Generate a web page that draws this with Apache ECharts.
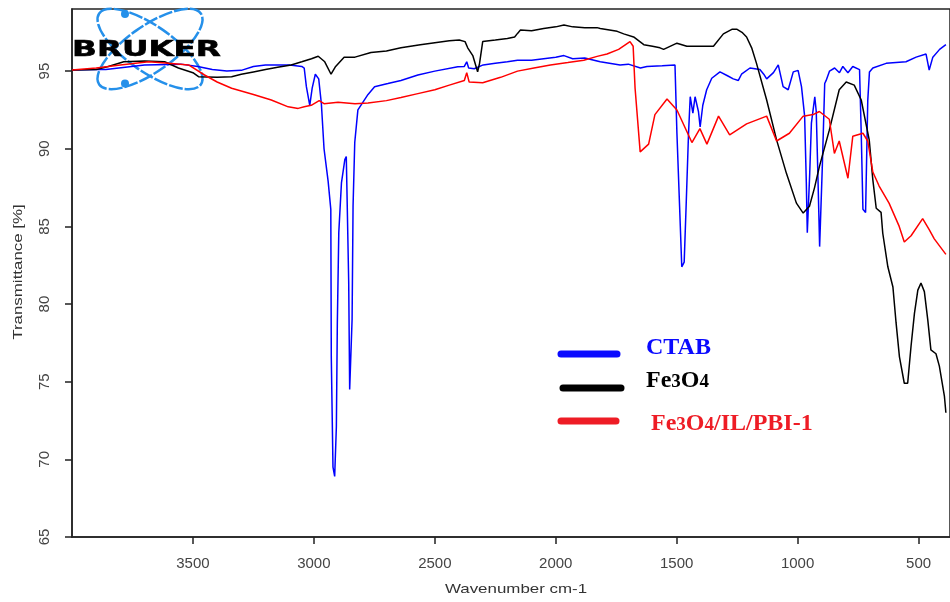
<!DOCTYPE html>
<html>
<head>
<meta charset="utf-8">
<script src="https://cdn.jsdelivr.net/npm/echarts@6/dist/echarts.min.js"></script>
<style>
  html, body { margin: 0; padding: 0; background: #fff; }
  #chart { width: 950px; height: 602px; }
</style>
</head>
<body>
<div id="chart"></div>
<script>
// FT-IR spectra: wavenumber (cm-1) and transmittance (%) per sample
const wavenumberTicks = [500, 1000, 1500, 2000, 2500, 3000, 3500];
const transmittanceTicks = [65, 70, 75, 80, 85, 90, 95];
const seriesNames = ['CTAB', 'Fe3O4', 'Fe3O4/IL/PBI-1'];

const ctabWavenumber = [4000, 3900, 3860, 3700, 3550, 3480, 3420, 3360, 3300, 3250, 3200, 3100, 3050, 3040, 3031, 3017, 3007, 2994, 2980, 2969, 2958, 2941, 2930, 2928, 2921, 2914, 2907, 2903, 2897, 2886, 2872, 2866, 2862, 2856, 2852, 2845, 2842, 2838, 2831, 2818, 2797, 2776, 2749, 2694, 2640, 2570, 2500, 2405, 2378, 2368, 2360, 2337, 2300, 2250, 2200, 2158, 2100, 2050, 2000, 1966, 1930, 1880, 1816, 1734, 1700, 1650, 1623, 1560, 1507, 1499, 1488, 1479, 1469, 1461, 1451, 1444, 1433, 1424, 1410, 1403, 1392, 1376, 1355, 1321, 1290, 1266, 1245, 1232, 1197, 1156, 1140, 1128, 1100, 1080, 1060, 1039, 1018, 998, 984, 971, 964, 960, 950, 943, 929, 923, 916, 909, 898, 888, 882, 868, 847, 827, 813, 792, 772, 744, 737, 730, 719, 710, 703, 689, 634, 552, 510, 469, 456, 441, 413, 387];
const ctabTransmittance = [95.07, 95.1, 95.1, 95.4, 95.45, 95.3, 95.1, 95.0, 95.05, 95.3, 95.4, 95.4, 95.3, 95.2, 94.0, 92.8, 93.9, 94.8, 94.5, 92.9, 90.0, 87.9, 86.1, 76.6, 69.5, 68.9, 72.1, 78.8, 84.6, 87.8, 89.3, 89.5, 86.3, 81.4, 74.5, 74.5, 79.0, 86.3, 90.4, 92.5, 93.0, 93.5, 94.0, 94.2, 94.4, 94.75, 95.0, 95.28, 95.3, 95.6, 95.2, 95.15, 95.4, 95.5, 95.6, 95.7, 95.7, 95.8, 95.9, 96.0, 95.8, 95.85, 95.6, 95.4, 95.45, 95.2, 95.3, 95.35, 95.4, 91.0, 86.3, 82.4, 82.7, 86.3, 91.0, 93.35, 92.3, 93.35, 92.4, 91.4, 92.8, 93.8, 94.54, 94.95, 94.7, 94.5, 94.4, 94.8, 95.2, 95.1, 94.8, 94.5, 94.9, 95.4, 94.0, 93.8, 94.95, 95.05, 94.0, 92.1, 87.8, 84.6, 88.4, 91.65, 93.35, 92.4, 88.2, 83.7, 88.8, 94.2, 94.4, 95.0, 95.2, 94.9, 95.3, 94.9, 95.3, 95.1, 91.0, 86.1, 85.9, 93.1, 94.95, 95.2, 95.5, 95.6, 95.9, 96.1, 95.07, 95.9, 96.4, 96.7];

const fe3o4Wavenumber = [4000, 3900, 3850, 3786, 3700, 3617, 3560, 3500, 3477, 3400, 3340, 3300, 3250, 3200, 3150, 3094, 3050, 3010, 2982, 2955, 2929, 2910, 2875, 2830, 2764, 2700, 2640, 2560, 2500, 2440, 2399, 2375, 2364, 2343, 2323, 2315, 2302, 2250, 2200, 2170, 2158, 2146, 2100, 2050, 2000, 1966, 1930, 1880, 1829, 1816, 1746, 1719, 1678, 1636, 1600, 1569, 1554, 1499, 1458, 1400, 1348, 1307, 1270, 1252, 1230, 1211, 1190, 1170, 1128, 1087, 1046, 1005, 977, 951, 930, 910, 869, 828, 799, 766, 737, 704, 689, 675, 655, 648, 627, 606, 593, 579, 559, 545, 531, 517, 503, 490, 476, 462, 449, 428, 414, 393, 387];
const fe3o4Transmittance = [95.07, 95.1, 95.3, 95.6, 95.65, 95.6, 95.2, 94.9, 94.64, 94.6, 94.64, 94.8, 94.95, 95.1, 95.25, 95.4, 95.6, 95.8, 95.96, 95.6, 94.8, 95.3, 95.9, 95.9, 96.2, 96.3, 96.5, 96.7, 96.83, 96.95, 97.0, 96.9, 96.5, 96.0, 94.96, 95.5, 96.9, 97.0, 97.1, 97.2, 97.43, 97.64, 97.6, 97.75, 97.85, 97.97, 97.85, 97.8, 97.8, 97.75, 97.56, 97.4, 97.2, 96.7, 96.6, 96.5, 96.4, 96.8, 96.6, 96.6, 96.6, 97.4, 97.7, 97.7, 97.5, 97.2, 96.5, 95.5, 93.14, 90.57, 88.4, 86.5, 85.86, 86.3, 87.5, 88.85, 91.2, 93.8, 94.3, 94.1, 93.14, 90.57, 88.0, 86.17, 85.9, 84.56, 82.4, 81.1, 78.8, 76.6, 74.9, 74.9, 77.3, 79.4, 80.9, 81.35, 80.8, 79.0, 77.05, 76.8, 76.0, 74.05, 73.0];

const compositeWavenumber = [4000, 3900, 3800, 3683, 3600, 3518, 3452, 3400, 3340, 3250, 3176, 3106, 3065, 3040, 3011, 2978, 2958, 2900, 2830, 2776, 2700, 2640, 2570, 2500, 2440, 2378, 2368, 2358, 2302, 2228, 2158, 2090, 2022, 1950, 1884, 1829, 1788, 1740, 1693, 1680, 1672, 1651, 1616, 1590, 1540, 1499, 1437, 1404, 1375, 1327, 1281, 1211, 1128, 1087, 1034, 977, 936, 910, 869, 848, 828, 807, 792, 772, 730, 710, 689, 663, 622, 580, 559, 531, 483, 456, 435, 387];
const compositeTransmittance = [95.07, 95.2, 95.4, 95.6, 95.5, 95.4, 94.75, 94.3, 93.9, 93.5, 93.14, 92.7, 92.6, 92.7, 92.8, 93.1, 92.9, 93.0, 92.9, 92.95, 93.1, 93.3, 93.55, 93.8, 94.1, 94.4, 94.9, 94.3, 94.25, 94.6, 95.0, 95.2, 95.4, 95.55, 95.7, 95.95, 96.1, 96.4, 96.9, 96.6, 93.9, 89.8, 90.3, 92.2, 93.2, 92.5, 90.4, 91.3, 90.3, 92.1, 90.9, 91.6, 92.1, 90.5, 91.0, 92.1, 92.2, 92.4, 91.9, 89.7, 90.5, 89.1, 88.1, 90.8, 91.0, 90.5, 88.5, 87.6, 86.5, 85.0, 84.0, 84.4, 85.5, 84.8, 84.2, 83.2];

const seriesColors = ['#0000ff', '#000000', '#ff0000'];

function pairs(xs, ys) {
  return xs.map((x, i) => [x, ys[i]]);
}

const axisColor = '#222';
const labelFont = 'Liberation Sans, Arial, sans-serif';
const legendFont = 'Liberation Serif, Times New Roman, serif';

const chart = echarts.init(document.getElementById('chart'), null, { renderer: 'canvas' });

const lineSeries = [
  [ctabWavenumber, ctabTransmittance],
  [fe3o4Wavenumber, fe3o4Transmittance],
  [compositeWavenumber, compositeTransmittance]
].map((d, i) => ({
  name: seriesNames[i],
  type: 'line',
  data: pairs(d[0], d[1]),
  showSymbol: false,
  symbol: 'none',
  silent: true,
  lineStyle: { color: seriesColors[i], width: 1.5 },
  z: 5
}));

// Manufacturer logo: two crossed orbits, two electrons and the word mark
const logoBlue = '#2590ea';
const logo = [
  {
    type: 'ellipse', x: 150, y: 49, rotation: -0.61, z: 1,
    shape: { cx: 0, cy: 0, rx: 62, ry: 23 },
    style: { fill: 'none', stroke: logoBlue, lineWidth: 2.5, lineDash: [14, 2] }
  },
  {
    type: 'ellipse', x: 150, y: 49, rotation: 0.61, z: 1,
    shape: { cx: 0, cy: 0, rx: 62, ry: 23 },
    style: { fill: 'none', stroke: logoBlue, lineWidth: 2.5, lineDash: [14, 2] }
  },
  { type: 'circle', z: 1, shape: { cx: 125, cy: 14, r: 4 }, style: { fill: logoBlue } },
  { type: 'circle', z: 1, shape: { cx: 125, cy: 83.5, r: 4 }, style: { fill: logoBlue } },
  {
    type: 'text', x: 146.5, y: 50, scaleX: 1.48, z: 2,
    style: {
      text: 'BRUKER', x: 0, y: 0, align: 'center', verticalAlign: 'middle',
      font: 'bold 22px "DejaVu Sans", sans-serif', fill: '#000',
      stroke: '#000', lineWidth: 0.6
    }
  }
];

// Hand-placed key inside the plot
const legendRows = [
  { y1: 354, x1: 561, x2: 617, ty: 348, tx: 646, color: '#0a0aff', text: 'CTAB', rich: null },
  { y1: 388, x1: 563, x2: 621, ty: 381, tx: 646, color: '#000000', text: '{b|Fe}{s|3}{b|O}{s|4}', rich: true },
  { y1: 421, x1: 561, x2: 616, ty: 424, tx: 651, color: '#ee1c25', text: '{b|Fe}{s|3}{b|O}{s|4}{b|/IL/PBI-1}', rich: true }
];
const legendItems = [];
legendRows.forEach(r => {
  legendItems.push({
    type: 'line', z: 3,
    shape: { x1: r.x1, y1: r.y1, x2: r.x2, y2: r.y1 },
    style: { stroke: r.color, lineWidth: 7, lineCap: 'round' }
  });
  const st = {
    text: r.text, x: 0, y: 0, align: 'left', verticalAlign: 'middle',
    fill: r.color, font: 'bold 24px ' + legendFont
  };
  if (r.rich) {
    st.rich = {
      b: { font: 'bold 24px ' + legendFont, fill: r.color, verticalAlign: 'bottom' },
      s: { font: 'bold 19px ' + legendFont, fill: r.color, verticalAlign: 'bottom', padding: [0, 0, 1, 0] }
    };
  }
  legendItems.push({ type: 'text', x: r.tx, y: r.ty, z: 3, style: st });
});

// Axis titles
const titles = [
  {
    type: 'text', x: 18, y: 272, rotation: Math.PI / 2, scaleX: 1.3, z: 3,
    style: {
      text: 'Transmittance [%]', x: 0, y: 0, align: 'center', verticalAlign: 'middle',
      font: '13px ' + labelFont, fill: '#333'
    }
  },
  {
    type: 'text', x: 516, y: 589, scaleX: 1.3, z: 3,
    style: {
      text: 'Wavenumber cm-1', x: 0, y: 0, align: 'center', verticalAlign: 'middle',
      font: '13px ' + labelFont, fill: '#333'
    }
  }
];

const plainNumber = v => String(v);

chart.setOption({
  animation: false,
  backgroundColor: '#fff',
  grid: {
    left: 72, right: -4, top: 9, bottom: 65,
    show: true, borderColor: axisColor, borderWidth: 1.5
  },
  xAxis: {
    type: 'value',
    inverse: true,
    min: 370,
    max: 4000,
    axisLine: { show: true, onZero: false, lineStyle: { color: axisColor, width: 1.5 } },
    axisTick: { show: true, customValues: wavenumberTicks, length: 7, lineStyle: { color: axisColor, width: 1.5 } },
    axisLabel: { customValues: wavenumberTicks, formatter: plainNumber, margin: 19, fontSize: 15, color: '#444', fontFamily: labelFont },
    splitLine: { show: false }
  },
  yAxis: {
    type: 'value',
    min: 65,
    max: 99,
    axisLine: { show: true, onZero: false, lineStyle: { color: axisColor, width: 1.5 } },
    axisTick: { show: true, customValues: transmittanceTicks, length: 7, lineStyle: { color: axisColor, width: 1.5 } },
    axisLabel: { customValues: transmittanceTicks, formatter: plainNumber, rotate: 90, margin: 20, fontSize: 15, color: '#444', fontFamily: labelFont },
    splitLine: { show: false }
  },
  graphic: { elements: logo.concat(legendItems, titles) },
  series: lineSeries
});
</script>
</body>
</html>
